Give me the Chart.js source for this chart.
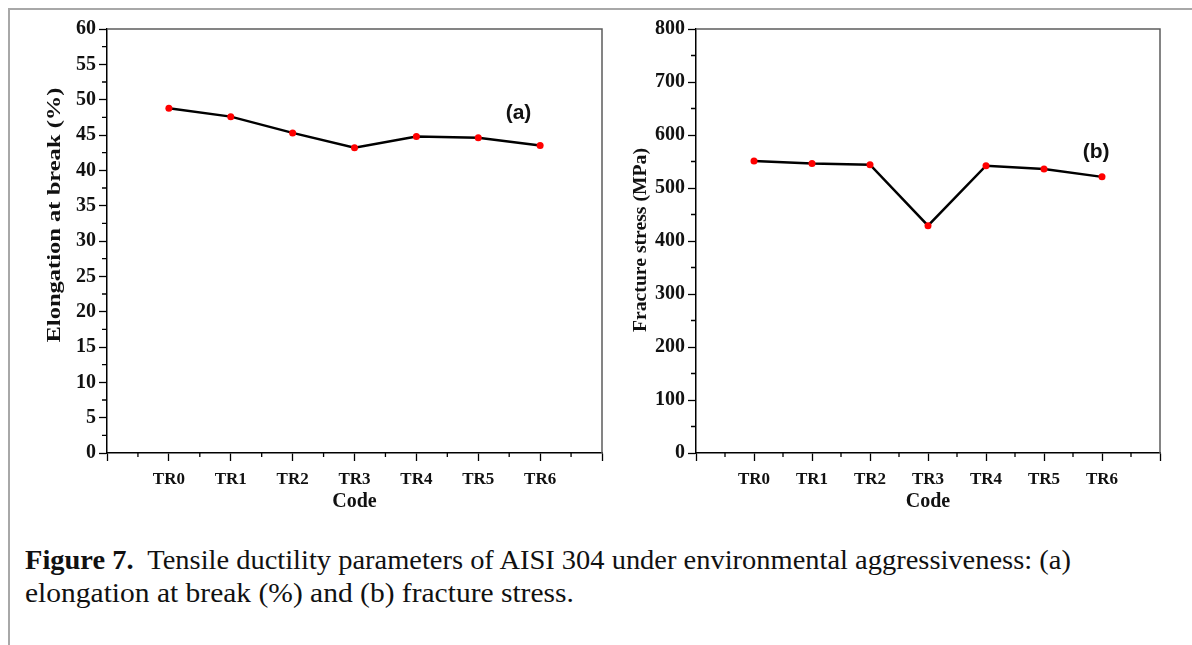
<!DOCTYPE html>
<html>
<head>
<meta charset="utf-8">
<script src="https://cdn.jsdelivr.net/npm/chart.js@4.4.0/dist/chart.umd.min.js"></script>
<style>
  body { margin: 0; background: #fff; width: 1192px; height: 645px; overflow: hidden; position: relative; }
  #frame { position: absolute; left: 8px; top: 8px; width: 1184px; height: 637px; border-top: 2px solid #a8a8a8; border-left: 2px solid #a8a8a8; }
  .box { position: absolute; top: 0; }
  .cap { position: absolute; left: 25px; font-family: 'Liberation Serif', serif; font-size: 28px; color: #111; white-space: nowrap; transform-origin: 0 0; line-height: 1; }
</style>
</head>
<body>
<div id="frame"></div>
<canvas id="chartA" class="box" style="left:0px" width="610" height="520"></canvas>
<canvas id="chartB" class="box" style="left:610px" width="582" height="520"></canvas>
<div id="cap1" class="cap" style="top:546px"><b>Figure 7.</b>&nbsp; Tensile ductility parameters of AISI 304 under environmental aggressiveness: (a)</div>
<div id="cap2" class="cap" style="top:579px">elongation at break (%) and (b) fracture stress.</div>

<script>
// dados
const categories = ['TR0', 'TR1', 'TR2', 'TR3', 'TR4', 'TR5', 'TR6'];
const elongation = [48.8, 47.6, 45.3, 43.2, 44.8, 44.6, 43.5];
const fractureStress = [551, 546, 544, 429, 542, 536, 521];
const elongationTicks = [0, 5, 10, 15, 20, 25, 30, 35, 40, 45, 50, 55, 60];
const stressTicks = [0, 100, 200, 300, 400, 500, 600, 700, 800];

const serif = "'Liberation Serif', 'Times New Roman', serif";

// desenha moldura, ticks menores, título do eixo y e a etiqueta (a)/(b)
const extrasPlugin = {
  id: 'extras',
  afterDraw(chart, args, opts) {
    const ctx = chart.ctx;
    const area = chart.chartArea;
    const xs = chart.scales.x;
    const ys = chart.scales.y;
    ctx.save();

    ctx.strokeStyle = '#5c5c5c';
    ctx.lineWidth = 1.5;
    ctx.beginPath();
    ctx.moveTo(area.left, area.top);
    ctx.lineTo(area.right, area.top);
    ctx.lineTo(area.right, area.bottom);
    ctx.stroke();

    ctx.strokeStyle = '#000';
    ctx.lineWidth = 1.3;
    ctx.beginPath();
    xs.ticks.forEach(t => {
      if (!Number.isInteger(t.value)) {
        const x = xs.getPixelForValue(t.value);
        ctx.moveTo(x, area.bottom);
        ctx.lineTo(x, area.bottom + 4);
      }
    });
    ys.ticks.forEach(t => {
      if (!opts.yLabels.includes(t.value)) {
        const y = ys.getPixelForValue(t.value);
        ctx.moveTo(area.left, y);
        ctx.lineTo(area.left - 5, y);
      }
    });
    ctx.stroke();

    // título do eixo y, esticado como na figura
    ctx.fillStyle = '#111';
    ctx.font = 'bold 18px ' + serif;
    ctx.textAlign = 'center';
    ctx.textBaseline = 'middle';
    const w = ctx.measureText(opts.yTitle).width;
    ctx.translate(opts.yTitleX, opts.yTitleY);
    ctx.rotate(-Math.PI / 2);
    ctx.scale(opts.yTitleLen / w, 1);
    ctx.fillText(opts.yTitle, 0, 0);
    ctx.setTransform(1, 0, 0, 1, 0, 0);

    ctx.font = "bold 21px 'Liberation Sans', Arial, sans-serif";
    ctx.fillText(opts.tag, xs.getPixelForValue(opts.tagAt[0]), ys.getPixelForValue(opts.tagAt[1]));
    ctx.restore();
  }
};

function makeChart(id, values, yTicks, yStep, padRight, yWidth, extras) {
  const ctx = document.getElementById(id).getContext('2d');
  return new Chart(ctx, {
    type: 'line',
    data: {
      datasets: [{
        data: values.map((v, i) => ({ x: i, y: v })),
        borderColor: '#000',
        borderWidth: 2.5,
        pointRadius: 3.5,
        pointBackgroundColor: '#ff0000',
        pointBorderColor: '#ff0000',
        pointBorderWidth: 0,
        tension: 0
      }]
    },
    options: {
      responsive: false,
      animation: false,
      events: [],
      layout: { padding: { top: 29, right: padRight, left: 0, bottom: 0 } },
      plugins: {
        legend: { display: false },
        tooltip: { enabled: false },
        extras: extras
      },
      scales: {
        x: {
          type: 'linear',
          min: -1,
          max: 7,
          afterFit: scale => { scale.height = 67; },
          border: { color: '#000', width: 1.5 },
          grid: {
            drawOnChartArea: false,
            tickLength: 8,
            tickWidth: 1.3,
            tickColor: c => Number.isInteger(c.tick.value) ? '#000' : 'rgba(0,0,0,0)'
          },
          ticks: {
            stepSize: 0.5,
            autoSkip: false,
            maxRotation: 0,
            padding: 8,
            color: '#111',
            font: { family: serif, size: 17, weight: 'bold' },
            callback: v => (Number.isInteger(v) && v >= 0 && v < categories.length) ? categories[v] : ''
          },
          title: {
            display: true,
            text: 'Code',
            color: '#111',
            padding: { top: 0, bottom: 6 },
            font: { family: serif, size: 20, weight: 'bold' }
          }
        },
        y: {
          min: yTicks[0],
          max: yTicks[yTicks.length - 1],
          afterFit: scale => { scale.width = yWidth; },
          border: { color: '#000', width: 1.5 },
          grid: {
            drawOnChartArea: false,
            tickLength: 8,
            tickWidth: 1.3,
            tickColor: c => yTicks.includes(c.tick.value) ? '#000' : 'rgba(0,0,0,0)'
          },
          ticks: {
            stepSize: yStep,
            autoSkip: false,
            padding: 3,
            color: '#111',
            font: { family: serif, size: 20, weight: 'bold' },
            callback: v => yTicks.includes(v) ? String(v) : ''
          }
        }
      }
    },
    plugins: [extrasPlugin]
  });
}

makeChart('chartA', elongation, elongationTicks, 2.5, 7, 107, {
  yLabels: elongationTicks,
  yTitle: 'Elongation at break (%)',
  yTitleX: 55, yTitleY: 215, yTitleLen: 255,
  tag: '(a)', tagAt: [5.65, 48.1]
});

makeChart('chartB', fractureStress, stressTicks, 50, 32, 86, {
  yLabels: stressTicks,
  yTitle: 'Fracture stress (MPa)',
  yTitleX: 31, yTitleY: 240, yTitleLen: 184,
  tag: '(b)', tagAt: [5.9, 568]
});

// ajusta a largura da legenda ao original
function fitCaption(id, target) {
  const el = document.getElementById(id);
  el.style.transform = 'scaleX(' + (target / el.offsetWidth) + ')';
}
fitCaption('cap1', 1046);
fitCaption('cap2', 549);
</script>
</body>
</html>
